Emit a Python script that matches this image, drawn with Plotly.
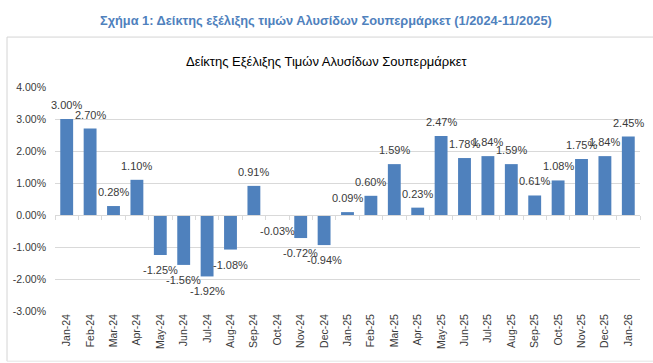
import plotly.graph_objects as go

months = ["Jan-24", "Feb-24", "Mar-24", "Apr-24", "May-24", "Jun-24", "Jul-24", "Aug-24",
          "Sep-24", "Oct-24", "Nov-24", "Dec-24", "Jan-25", "Feb-25", "Mar-25", "Apr-25",
          "May-25", "Jun-25", "Jul-25", "Aug-25", "Sep-25", "Oct-25", "Nov-25", "Dec-25", "Jan-26"]
values = [3.00, 2.70, 0.28, 1.10, -1.25, -1.56, -1.92, -1.08, 0.91, -0.03, -0.72, -0.94,
          0.09, 0.60, 1.59, 0.23, 2.47, 1.78, 1.84, 1.59, 0.61, 1.08, 1.75, 1.84, 2.45]
y_ticks = [-3, -2, -1, 0, 1, 2, 3, 4]
y_tick_labels = [f"{t:.2f}%" for t in y_ticks]

main_title = "Σχήμα 1: Δείκτης εξέλιξης τιμών Αλυσίδων Σουπερμάρκετ (1/2024-11/2025)"
chart_title = "Δείκτης Εξέλιξης Τιμών Αλυσίδων Σουπερμάρκετ"

FONT = "Liberation Sans, Arial, sans-serif"
BAR = "#4f81bd"
GRID = "#d9d9d9"
TXT = "#3a3a3a"

fig = go.Figure()
fig.add_trace(go.Bar(x=months, y=values, marker=dict(color=BAR, line=dict(width=0)),
                     hoverinfo="x+y", showlegend=False))
# helper trace for the category axis drawn at the zero line
fig.add_trace(go.Scatter(x=months, y=values, xaxis="x2", mode="markers",
                         marker=dict(opacity=0), hoverinfo="skip", showlegend=False))

annotations = []
for m, v in zip(months, values):
    annotations.append(dict(
        x=m, y=v, xref="x", yref="y", text=f"{v:.2f}%", showarrow=False,
        yanchor="bottom" if v >= 0 else "top", yshift=6 if v >= 0 else -7,
        font=dict(family=FONT, size=11, color=TXT)))

ymin, ymax = -3, 4
xrange = [-0.5, len(months) - 0.5]
annotations.append(dict(text=f"<b>{main_title}</b>", xref="paper", yref="paper",
                        x=0.464, y=1.299, showarrow=False, yanchor="middle",
                        font=dict(family=FONT, size=12.8, color="#4f81bd")))
annotations.append(dict(text=chart_title, xref="paper", yref="paper",
                        x=0.464, y=1.116, showarrow=False, yanchor="middle",
                        font=dict(family=FONT, size=13, color="#000000")))

fig.update_layout(
    width=653, height=363,
    margin=dict(l=55, r=13, t=87, b=52),
    paper_bgcolor="white", plot_bgcolor="white",
    bargap=0.45,
    font=dict(family=FONT, size=10, color=TXT),
    annotations=annotations,
    shapes=[
        dict(type="line", xref="paper", yref="paper", x0=-0.082, x1=1.05,
             y0=1.223, y1=1.223, line=dict(color="#d4d4d4", width=1), layer="above"),
        dict(type="line", xref="paper", yref="paper", x0=-0.082, x1=-0.082,
             y0=1.223, y1=-0.224, line=dict(color="#d4d4d4", width=1), layer="above"),
        dict(type="line", xref="paper", yref="paper", x0=-0.082, x1=1.05,
             y0=-0.224, y1=-0.224, line=dict(color="#e4e4e4", width=1), layer="above"),
    ],
    xaxis=dict(type="category", categoryorder="array", categoryarray=months,
               range=xrange, autorange=False,
               tickangle=-90, showgrid=False, zeroline=False, showline=False,
               ticks="", tickfont=dict(family=FONT, size=10.5, color=TXT)),
    xaxis2=dict(type="category", overlaying="x", matches="x", anchor="free",
                range=xrange, autorange=False,
                position=(0 - ymin) / (ymax - ymin), side="bottom",
                showticklabels=False, ticks="outside", ticklen=4, tickcolor=GRID,
                tickson="boundaries", showline=True, linecolor=GRID, linewidth=1,
                showgrid=False, zeroline=False),
    yaxis=dict(range=[ymin, ymax], tickvals=y_ticks, ticktext=y_tick_labels,
               showgrid=True, gridcolor=GRID, gridwidth=1, zeroline=False,
               showline=False, ticks="", ticklabelstandoff=8,
               tickfont=dict(family=FONT, size=10.5, color=TXT)),
)

fig.write_html("out.html", config={"displayModeBar": False},
               post_script="document.body.style.margin='0px';")
